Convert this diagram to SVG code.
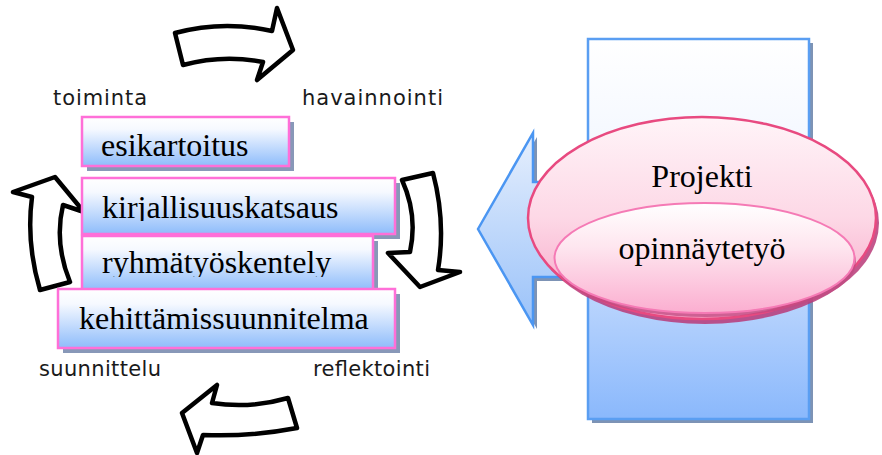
<svg xmlns="http://www.w3.org/2000/svg" width="882" height="455" viewBox="0 0 882 455">
<defs>
<linearGradient id="gBox" x1="0" y1="0" x2="0" y2="1">
<stop offset="0" stop-color="#ffffff"/>
<stop offset="0.25" stop-color="#f6f9ff"/>
<stop offset="1" stop-color="#8ebcfb"/>
</linearGradient>
<linearGradient id="gRect" x1="0" y1="0" x2="0" y2="1">
<stop offset="0" stop-color="#ffffff"/>
<stop offset="0.3" stop-color="#f3f7ff"/>
<stop offset="1" stop-color="#8ab8fc"/>
</linearGradient>
<linearGradient id="gArrow" gradientUnits="userSpaceOnUse" x1="0" y1="133" x2="0" y2="325">
<stop offset="0" stop-color="#e6effd"/>
<stop offset="1" stop-color="#9ac2f9"/>
</linearGradient>
<linearGradient id="gOuter" x1="0" y1="0" x2="0" y2="1">
<stop offset="0" stop-color="#fff4f8"/>
<stop offset="0.5" stop-color="#fdd8e6"/>
<stop offset="1" stop-color="#f6a0c4"/>
</linearGradient>
<linearGradient id="gInner" x1="0" y1="0" x2="0" y2="1">
<stop offset="0" stop-color="#ffffff"/>
<stop offset="0.4" stop-color="#fee6ef"/>
<stop offset="1" stop-color="#fbaed0"/>
</linearGradient>
<clipPath id="clipK"><rect x="82" y="178" width="313" height="43"/></clipPath>
<clipPath id="clipR"><rect x="82" y="236" width="291" height="41"/></clipPath>
</defs>
<style>
.cyc{fill:#ffffff;stroke:#000000;stroke-width:4.5;stroke-linejoin:round}
.box{fill:url(#gBox);stroke:#ff6fd8;stroke-width:2.5}
.shd{fill:#8898b8}
.bt{font-family:"Liberation Serif","Times New Roman",serif;font-size:32px;fill:#000000}
.lbl{font-family:"DejaVu Sans","Century Gothic",sans-serif;font-size:21px;fill:#1a1a1a}
.et{font-family:"Liberation Serif","Times New Roman",serif;font-size:32px;fill:#000000;text-anchor:middle}
</style>

<g id="connectors">
<path id="arrow-top" class="cyc" d="M175,33 Q223,20 272,31 L277,8 L293,50 L257,80 L263,62 Q223,54 183,65 Z"/>
<path id="arrow-right" class="cyc" d="M402,180 L433,173 Q446,222 438,270 L460,272 L420,287 L388,253 L410,252 Q418,215 402,180 Z"/>
<path id="arrow-bottom" class="cyc" d="M182,413 L217,385 L212,403 Q250,409 288,398 L297,428 Q250,437 203,435 L197,453 Z"/>
<path id="arrow-left" class="cyc" d="M55,177 L84,212 L63,205 Q54,243 70,282 L40,290 Q26,243 32,197 L13,192 Z"/>
</g>

<g id="label-toiminta"><text class="lbl" x="53" y="105" textLength="94" lengthAdjust="spacing">toiminta</text></g>
<g id="label-havainnointi"><text class="lbl" x="302" y="105" textLength="141" lengthAdjust="spacing">havainnointi</text></g>
<g id="label-suunnittelu"><text class="lbl" x="39" y="376" textLength="122" lengthAdjust="spacing">suunnittelu</text></g>
<g id="label-reflektointi"><text class="lbl" x="313" y="376" textLength="117" lengthAdjust="spacing">reflektointi</text></g>

<g id="box-esikartoitus">
<rect class="shd" x="87" y="122" width="207" height="49"/>
<rect class="box" x="82" y="117" width="207" height="49"/>
<text class="bt" x="101" y="156">esikartoitus</text>
</g>
<g id="box-kirjallisuuskatsaus">
<rect class="shd" x="87" y="183" width="313" height="56"/>
<rect class="box" x="82" y="178" width="313" height="56"/>
<text class="bt" x="102" y="218" clip-path="url(#clipK)">kirjallisuuskatsaus</text>
</g>
<g id="box-ryhmatyoskentely">
<rect class="shd" x="87" y="241" width="291" height="54"/>
<rect class="box" x="82" y="236" width="291" height="54"/>
<text class="bt" x="102" y="273" clip-path="url(#clipR)">ryhmätyöskentely</text>
</g>
<g id="box-kehittamissuunnitelma">
<rect class="shd" x="63" y="294" width="337" height="59"/>
<rect class="box" x="58" y="289" width="337" height="59"/>
<text class="bt" x="79" y="329">kehittämissuunnitelma</text>
</g>

<g id="node-rect">
<rect x="592" y="43" width="221" height="380" fill="#7d93b5"/>
<rect x="588" y="39" width="221" height="380" fill="url(#gRect)" stroke="#5a9ef2" stroke-width="2.5"/>
</g>
<g id="node-blue-arrow">
<path d="M481,233 L537,137 L537,186 L604,186 L604,281 L537,281 L537,329 Z" fill="#7d93b5"/>
<path d="M478,229 L533,133 L533,182 L600,182 L600,277 L533,277 L533,325 Z" fill="url(#gArrow)" stroke="#4b96f2" stroke-width="2.5" stroke-linejoin="miter"/>
</g>
<g id="node-projekti">
<ellipse cx="705" cy="223" rx="174" ry="101" fill="#b83a78" opacity="0.85"/>
<ellipse cx="702" cy="218" rx="174" ry="101" fill="url(#gOuter)" stroke="#e84a80" stroke-width="2.5"/>
<text class="et" x="702" y="187">Projekti</text>
</g>
<g id="node-opinnaytetyo">
<ellipse cx="706" cy="262" rx="150" ry="55" fill="#c04a82" opacity="0.75"/>
<ellipse cx="704.5" cy="258" rx="150" ry="55" fill="url(#gInner)" stroke="#f57ab5" stroke-width="2"/>
<text class="et" x="702" y="259">opinnäytetyö</text>
</g>
</svg>
